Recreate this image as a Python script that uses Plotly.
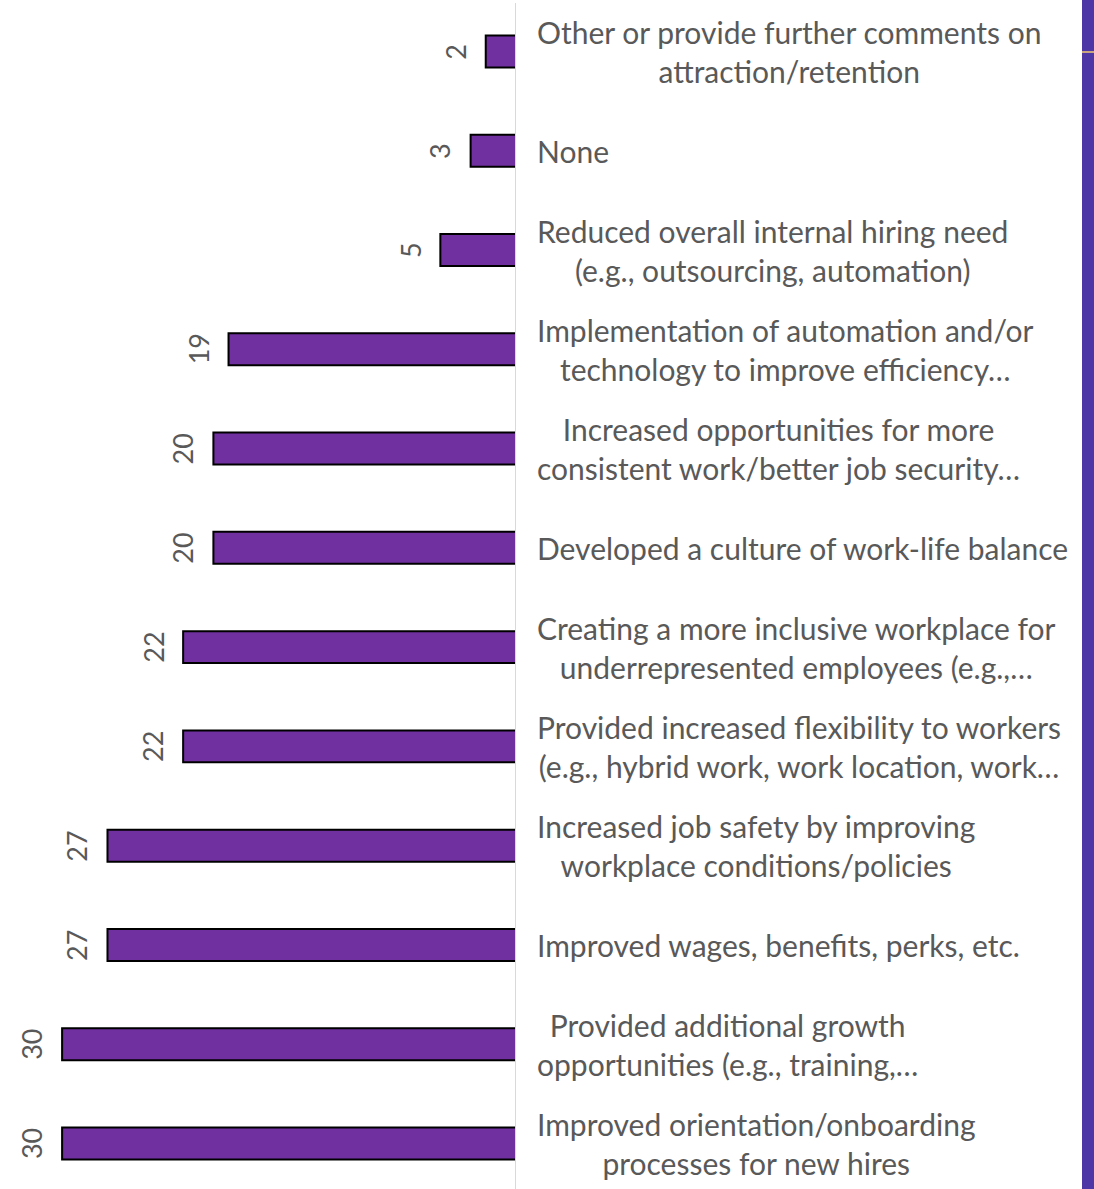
import plotly.graph_objects as go

# Survey responses, listed from the top bar down
categories = [
    "Other or provide further comments on<br>attraction/retention",
    "None",
    "Reduced overall internal hiring need<br>(e.g., outsourcing, automation)",
    "Implementation of automation and/or<br>technology to improve efficiency…",
    "Increased opportunities for more<br>consistent work/better job security…",
    "Developed a culture of work-life balance",
    "Creating a more inclusive workplace for<br>underrepresented employees (e.g.,…",
    "Provided increased flexibility to workers<br>(e.g., hybrid work, work location, work…",
    "Increased job safety by improving<br>workplace conditions/policies",
    "Improved wages, benefits, perks, etc.",
    "Provided additional growth<br>opportunities (e.g., training,…",
    "Improved orientation/onboarding<br>processes for new hires",
]
values = [2, 3, 5, 19, 20, 20, 22, 22, 27, 27, 30, 30]

n = len(categories)
positions = [n - 1 - i for i in range(n)]  # top bar gets the highest position

W, H = 1094, 1189
AXIS_PX = 516          # pixel column of the zero line
PX_PER_UNIT = 15.13
BAND_PX = 99.27
TOP_CENTER_PX = 51.5

x_max = AXIS_PX / PX_PER_UNIT
y_top = (n - 1) + TOP_CENTER_PX / BAND_PX
y_bot = (n - 1) - (H - TOP_CENTER_PX) / BAND_PX

TEXT_GRAY = "#595959"
FONT = "Lato"

fig = go.Figure()
fig.add_trace(go.Bar(
    x=values,
    y=positions,
    orientation="h",
    width=0.322,
    marker=dict(color="#7030a0", line=dict(color="#000000", width=2)),
    hoverinfo="skip",
))

# value labels, rotated, left of each bar end
for pos, v in zip(positions, values):
    fig.add_annotation(
        x=v, xref="x", y=pos, yref="y",
        text=str(v), showarrow=False, textangle=-90,
        xanchor="right", yanchor="middle", xshift=-12,
        font=dict(family=FONT, size=27, color=TEXT_GRAY),
    )

# category labels to the right of the zero line
label_x = 535 / AXIS_PX
for pos, cat in zip(positions, categories):
    fig.add_annotation(
        x=label_x, xref="paper", y=pos, yref="y",
        text=cat, showarrow=False, xanchor="left", yanchor="middle",
        align="center",
        font=dict(family=FONT, size=30, color=TEXT_GRAY),
    )

# zero line
fig.add_shape(type="line", xref="x", yref="paper", x0=0, x1=0,
              y0=0, y1=1 - 3 / H, line=dict(color="#d9d9d9", width=2),
              layer="above")

# decorative stripe at the right edge
stripe_x0 = 1082 / AXIS_PX
stripe_x1 = W / AXIS_PX
fig.add_shape(type="rect", xref="paper", yref="paper",
              x0=stripe_x0, x1=stripe_x1, y0=0, y1=1,
              fillcolor="#4f36a6", line=dict(width=0), layer="above")
fig.add_shape(type="line", xref="paper", yref="paper",
              x0=stripe_x0, x1=stripe_x1, y0=1 - 52 / H, y1=1 - 52 / H,
              line=dict(color="#c9a57f", width=2), layer="above")

fig.update_layout(
    width=W, height=H,
    margin=dict(l=0, r=W - AXIS_PX, t=0, b=0, pad=0),
    paper_bgcolor="white", plot_bgcolor="white",
    showlegend=False,
    xaxis=dict(range=[x_max, 0], visible=False, fixedrange=True),
    yaxis=dict(range=[y_bot, y_top], visible=False, fixedrange=True),
)

fig.write_html("out.html")
